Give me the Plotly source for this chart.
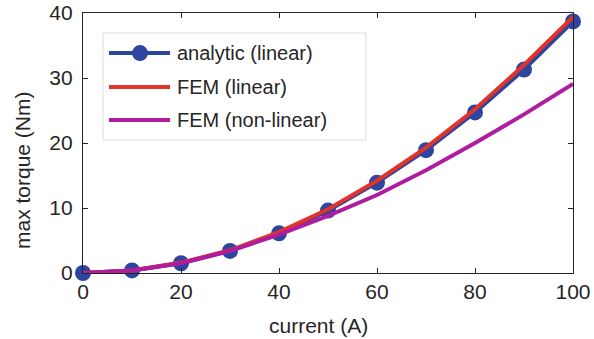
import plotly.graph_objects as go

current = [0, 10, 20, 30, 40, 50, 60, 70, 80, 90, 100]
analytic_linear = [0, 0.4, 1.5, 3.4, 6.1, 9.6, 13.9, 18.9, 24.7, 31.3, 38.7]
fem_linear = [0, 0.4, 1.6, 3.5, 6.3, 9.8, 14.2, 19.3, 25.2, 32.0, 39.4]
fem_nonlinear = [0, 0.4, 1.5, 3.4, 5.9, 8.8, 12.0, 15.8, 20.0, 24.4, 29.1]

tick_vals_x = [0, 20, 40, 60, 80, 100]
tick_vals_y = [0, 10, 20, 30, 40]
series_names = ["analytic (linear)", "FEM (linear)", "FEM (non-linear)"]
x_title = "current (A)"
y_title = "max torque (Nm)"

BLUE = "#2E45A0"
RED = "#E2332A"
MAG = "#B01C9E"
TXT = "#262626"
FONT = "Liberation Sans, Arial, sans-serif"

fig = go.Figure()
fig.add_trace(go.Scatter(x=current, y=analytic_linear, mode="lines+markers",
                         name=series_names[0], cliponaxis=False,
                         line=dict(color=BLUE, width=4),
                         marker=dict(color=BLUE, size=16)))
fig.add_trace(go.Scatter(x=current, y=fem_linear, mode="lines",
                         name=series_names[1], cliponaxis=False,
                         line=dict(color=RED, width=4)))
fig.add_trace(go.Scatter(x=current, y=fem_nonlinear, mode="lines",
                         name=series_names[2], cliponaxis=False,
                         line=dict(color=MAG, width=4)))

axis_common = dict(showgrid=False, zeroline=False, showline=True,
                   linecolor=TXT, linewidth=1.2, mirror="ticks",
                   ticks="inside", ticklen=5, tickcolor=TXT, automargin=False,
                   tickfont=dict(family=FONT, size=21, color=TXT))

fig.update_xaxes(range=[0, 100], tickvals=tick_vals_x,
                 ticklabeloverflow="allow", ticklabelstandoff=0, **axis_common)
fig.update_yaxes(range=[0, 40], tickvals=tick_vals_y,
                 ticklabeloverflow="allow", ticklabelstandoff=5, **axis_common)

# Custom legend (MATLAB-style, long line samples)
shapes = [dict(type="rect", xref="paper", yref="paper",
               x0=0.0408, x1=0.5776, y0=0.5115, y1=0.923,
               line=dict(color="#DDDDDD", width=1), fillcolor="white", layer="above")]
annotations = []
row_y = [0.846, 0.715, 0.588]
colors = [BLUE, RED, MAG]
for name, yy, c in zip(series_names, row_y, colors):
    shapes.append(dict(type="line", xref="paper", yref="paper",
                       x0=0.053, x1=0.1776, y0=yy, y1=yy,
                       line=dict(color=c, width=4), layer="above"))
    annotations.append(dict(xref="paper", yref="paper", x=0.1878, y=yy,
                            xanchor="left", yanchor="middle", showarrow=False,
                            text=name, font=dict(family=FONT, size=20, color=TXT)))
shapes.append(dict(type="circle", xref="paper", yref="paper",
                   xsizemode="pixel", ysizemode="pixel",
                   xanchor=0.1163, yanchor=row_y[0],
                   x0=-8, x1=8, y0=-8, y1=8,
                   line=dict(color=BLUE, width=0), fillcolor=BLUE, layer="above"))

# Axis titles
annotations.append(dict(xref="paper", yref="paper", x=0.4816, y=-0.2,
                        xanchor="center", yanchor="middle", showarrow=False,
                        text=x_title, font=dict(family=FONT, size=21, color=TXT)))
annotations.append(dict(xref="paper", yref="paper", x=-0.1245, y=0.396,
                        xanchor="center", yanchor="middle", showarrow=False,
                        textangle=-90,
                        text=y_title, font=dict(family=FONT, size=21, color=TXT)))

fig.update_layout(
    width=594, height=339,
    margin=dict(l=83, r=21, t=13, b=66),
    plot_bgcolor="white", paper_bgcolor="white",
    showlegend=False,
    shapes=shapes, annotations=annotations,
)

fig.write_html("out.html")
